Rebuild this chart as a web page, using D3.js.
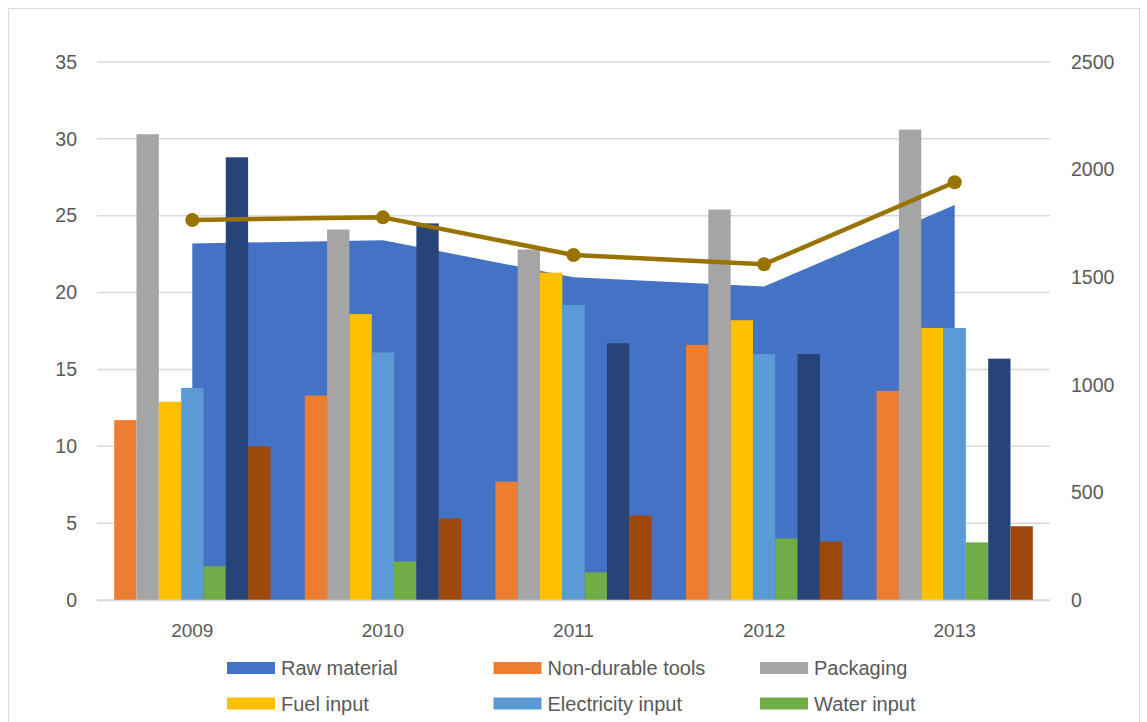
<!DOCTYPE html>
<html>
<head>
<meta charset="utf-8">
<script src="https://cdn.jsdelivr.net/npm/d3@7"></script>
<style>
  body { margin: 0; background: #fff; }
  text { font-family: "Liberation Sans", Arial, sans-serif; fill: #595959; }
</style>
</head>
<body>
<svg id="chart" width="1147" height="722"></svg>
<script>
// Data
const years = ["2009", "2010", "2011", "2012", "2013"];

// area series, left axis
const rawMaterial = [23.2, 23.4, 21.0, 20.4, 25.7];

// bar series, left axis
const nonDurableTools = [11.7, 13.3, 7.7, 16.6, 13.6];
const packaging = [30.3, 24.1, 22.8, 25.4, 30.6];
const fuelInput = [12.9, 18.6, 21.3, 18.2, 17.7];
const electricityInput = [13.8, 16.1, 19.2, 16.0, 17.7];
const waterInput = [2.2, 2.5, 1.8, 4.0, 3.75];
const labourInput = [28.8, 24.5, 16.7, 16.0, 15.7];
const otherInput = [10.0, 5.3, 5.5, 3.8, 4.8];

// line series, right axis
const totalCost = [1766, 1778, 1603, 1560, 1941];

const leftTicks = [0, 5, 10, 15, 20, 25, 30, 35];
const rightTicks = [0, 500, 1000, 1500, 2000, 2500];

const barSeries = [
  { name: "Non-durable tools", values: nonDurableTools, color: "#ED7D31" },
  { name: "Packaging", values: packaging, color: "#A5A5A5" },
  { name: "Fuel input", values: fuelInput, color: "#FFC000" },
  { name: "Electricity input", values: electricityInput, color: "#5B9BD5" },
  { name: "Water input", values: waterInput, color: "#70AD47" },
  { name: "Labour input", values: labourInput, color: "#264478" },
  { name: "Other input", values: otherInput, color: "#9E480E" },
];

const legendItems = [
  { name: "Raw material", color: "#4472C4" },
  { name: "Non-durable tools", color: "#ED7D31" },
  { name: "Packaging", color: "#A5A5A5" },
  { name: "Fuel input", color: "#FFC000" },
  { name: "Electricity input", color: "#5B9BD5" },
  { name: "Water input", color: "#70AD47" },
];

const svg = d3.select("#chart");

// chart frame
svg.append("rect")
  .attr("x", 8.5).attr("y", 8.5)
  .attr("width", 1131).attr("height", 740)
  .attr("fill", "none").attr("stroke", "#D9D9D9");

const plot = { left: 97, right: 1050, top: 62, bottom: 600 };

const x0 = d3.scaleBand().domain(years).range([plot.left, plot.right]);
const x1 = d3.scaleBand()
  .domain(barSeries.map((s) => s.name))
  .range([0, x0.bandwidth()])
  .paddingOuter(0.77);
const yLeft = d3.scaleLinear().domain([0, 35]).range([plot.bottom, plot.top]);
const yRight = d3.scaleLinear().domain([0, 2500]).range([plot.bottom, plot.top]);

const cx = (yr) => x0(yr) + x0.bandwidth() / 2;

// gridlines
svg.append("g")
  .selectAll("line")
  .data(leftTicks)
  .join("line")
  .attr("x1", plot.left).attr("x2", plot.right)
  .attr("y1", (d) => yLeft(d)).attr("y2", (d) => yLeft(d))
  .attr("stroke", "#D9D9D9").attr("stroke-width", 1.5);

// left axis labels
const leftAxis = svg.append("g")
  .attr("transform", `translate(${plot.left - 20},0)`)
  .call(d3.axisLeft(yLeft).tickValues(leftTicks).tickSize(0).tickPadding(0));
leftAxis.select(".domain").remove();
leftAxis.selectAll("text")
  .attr("font-size", 19.5).attr("fill", "#595959")
  .style("font-family", "'Liberation Sans', Arial, sans-serif");

// right axis labels
const rightAxis = svg.append("g")
  .attr("transform", `translate(${plot.right + 21},0)`)
  .call(d3.axisRight(yRight).tickValues(rightTicks).tickFormat(d3.format("d")).tickSize(0).tickPadding(0));
rightAxis.select(".domain").remove();
rightAxis.selectAll("text")
  .attr("font-size", 19.5).attr("fill", "#595959")
  .style("font-family", "'Liberation Sans', Arial, sans-serif");

// raw material area
const area = d3.area()
  .x((d, i) => cx(years[i]))
  .y0(yLeft(0))
  .y1((d) => yLeft(d));
svg.append("path")
  .datum(rawMaterial)
  .attr("d", area)
  .attr("fill", "#4472C4");

// bars
const groups = svg.append("g")
  .selectAll("g")
  .data(years)
  .join("g")
  .attr("transform", (d) => `translate(${x0(d)},0)`);

groups.selectAll("rect")
  .data((yr, i) => barSeries.map((s) => ({ name: s.name, color: s.color, value: s.values[i] })))
  .join("rect")
  .attr("x", (d) => x1(d.name))
  .attr("width", x1.bandwidth())
  .attr("y", (d) => yLeft(d.value))
  .attr("height", (d) => yLeft(0) - yLeft(d.value))
  .attr("fill", (d) => d.color);

// bottom axis line
svg.append("line")
  .attr("x1", plot.left).attr("x2", plot.right)
  .attr("y1", plot.bottom + 0.5).attr("y2", plot.bottom + 0.5)
  .attr("stroke", "#D9D9D9").attr("stroke-width", 1.5);

// year labels
svg.append("g")
  .selectAll("text")
  .data(years)
  .join("text")
  .attr("x", (d) => cx(d))
  .attr("y", 637)
  .attr("text-anchor", "middle")
  .attr("font-size", 19)
  .text((d) => d);

// total line
const line = d3.line()
  .x((d, i) => cx(years[i]))
  .y((d) => yRight(d));
svg.append("path")
  .datum(totalCost)
  .attr("d", line)
  .attr("fill", "none")
  .attr("stroke", "#997300")
  .attr("stroke-width", 4.5)
  .attr("stroke-linejoin", "round");
svg.append("g")
  .selectAll("circle")
  .data(totalCost)
  .join("circle")
  .attr("cx", (d, i) => cx(years[i]))
  .attr("cy", (d) => yRight(d))
  .attr("r", 7)
  .attr("fill", "#997300");

// legend
const legend = svg.append("g")
  .selectAll("g")
  .data(legendItems)
  .join("g")
  .attr("transform", (d, i) => `translate(${227 + (i % 3) * 266.5},${662 + Math.floor(i / 3) * 35.5})`);
legend.append("rect")
  .attr("width", 48).attr("height", 12)
  .attr("fill", (d) => d.color);
legend.append("text")
  .attr("x", 54).attr("y", 13)
  .attr("font-size", 20)
  .text((d) => d.name);
</script>
</body>
</html>
